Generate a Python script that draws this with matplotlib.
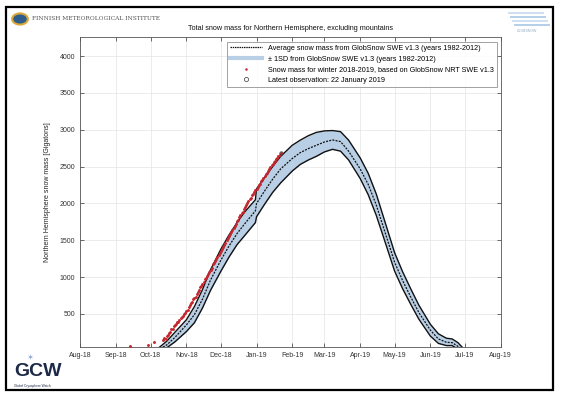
import matplotlib.pyplot as plt
import matplotlib.dates as mdates
import matplotlib.patches as mpatches
from matplotlib.lines import Line2D
import pandas as pd

plt.rcParams['font.family'] = ['Liberation Sans', 'DejaVu Sans']

# climatology (GlobSnow SWE v1.3, 1982-2012)
clim_dates = ['2018-10-01', '2018-10-08', '2018-10-15', '2018-10-22', '2018-11-01',
              '2018-11-08', '2018-11-15', '2018-11-22', '2018-12-01', '2018-12-08',
              '2018-12-15', '2018-12-22', '2018-12-31', '2019-01-01', '2019-01-08',
              '2019-01-15', '2019-01-22', '2019-02-01', '2019-02-08', '2019-02-15',
              '2019-02-22', '2019-03-01', '2019-03-08', '2019-03-15', '2019-03-22',
              '2019-04-01', '2019-04-08', '2019-04-15', '2019-04-22', '2019-05-01',
              '2019-05-08', '2019-05-15', '2019-05-22', '2019-06-01', '2019-06-08',
              '2019-06-15', '2019-06-20', '2019-06-25', '2019-07-01']
clim_mean = [0, 15, 80, 180, 350, 490, 700, 960, 1230, 1420,
             1590, 1730, 1900, 2000, 2170, 2330, 2470, 2610, 2690, 2745,
             2790, 2835, 2862, 2840, 2710, 2470, 2260, 1980, 1640, 1200,
             950, 730, 520, 280, 160, 115, 110, 60, 0]
clim_upper = [0, 40, 130, 250, 420, 600, 830, 1100, 1380, 1570,
              1740, 1890, 2050, 2200, 2350, 2500, 2640, 2790, 2860, 2920,
              2965, 2985, 2990, 2975, 2860, 2620, 2410, 2130, 1780, 1330,
              1070, 840, 620, 360, 230, 170, 160, 110, 10]
clim_lower = [0, 0, 40, 120, 260, 380, 580, 820, 1080, 1270,
              1440, 1570, 1740, 1820, 1990, 2150, 2280, 2440, 2530, 2590,
              2640, 2700, 2735, 2710, 2590, 2340, 2120, 1840, 1510, 1080,
              840, 630, 430, 200, 100, 70, 70, 20, 0]

# winter 2018-2019 (GlobSnow NRT SWE v1.3)
obs_early_dates = ['2018-09-13', '2018-09-29', '2018-10-04']
obs_early = [60, 80, 115]
obs_oct = [150, 175, 160, 200, 215, 240, 250, 300, 290, 330,
           345, 360, 390, 385, 420, 440, 455, 470, 500, 515]
obs_nov = [545, 560, 600, 615, 650, 660, 700, 720, 735, 770,
           800, 820, 860, 880, 905, 930, 975, 990, 1020, 1040,
           1070, 1100, 1130, 1175, 1190, 1215, 1240, 1270, 1300, 1330]
obs_dec = [1360, 1385, 1410, 1440, 1465, 1500, 1530, 1560, 1590, 1610,
           1640, 1670, 1700, 1720, 1760, 1780, 1810, 1840, 1865, 1890,
           1920, 1950, 1980, 2000, 2035, 2060, 2080, 2110, 2130, 2160, 2180]
obs_jan = [2200, 2230, 2250, 2270, 2300, 2320, 2350, 2370, 2400, 2420,
           2440, 2470, 2490, 2520, 2540, 2560, 2580, 2600, 2620, 2640,
           2660, 2680]

cd = pd.to_datetime(clim_dates)
obs_vals = obs_early + obs_oct + obs_nov + obs_dec + obs_jan
obs_dates = list(pd.to_datetime(obs_early_dates)) + \
    list(pd.date_range('2018-10-12', periods=len(obs_oct) + len(obs_nov) + len(obs_dec) + len(obs_jan)))

fig = plt.figure(figsize=(5.62, 3.98), dpi=100)
ax = fig.add_axes([0.1432, 0.1289, 0.7474, 0.7781])

ax.fill_between(cd, clim_lower, clim_upper, color='#b9cfe5', lw=0, zorder=2)
ax.plot(cd, clim_upper, color='#111111', lw=1.0, zorder=3)
ax.plot(cd, clim_lower, color='#111111', lw=1.0, zorder=3)
ax.plot(cd, clim_mean, color='#111111', lw=0.9, dashes=(1.6, 1.0), zorder=4)
ax.plot(obs_dates, obs_vals, 'o', color='#c3262d', ms=2.1, mew=0, zorder=5)
ax.plot(obs_dates[-1:], obs_vals[-1:], 'o', mfc='none', mec='#333333', ms=2.5, mew=0.5, zorder=6)

ax.set_xlim(pd.Timestamp('2018-08-01'), pd.Timestamp('2019-08-01'))
ax.set_ylim(55, 4260)
ax.set_yticks([500, 1000, 1500, 2000, 2500, 3000, 3500, 4000])
ax.xaxis.set_major_locator(mdates.MonthLocator())
ax.xaxis.set_major_formatter(mdates.DateFormatter('%b-%y'))
ax.tick_params(direction='in', top=True, right=True, length=3, width=0.5,
               labelsize=5, colors='#333333', pad=4)
ax.grid(True, color='#e4e4e4', lw=0.5)
ax.set_axisbelow(True)
for s in ax.spines.values():
    s.set_color('#555555')
    s.set_linewidth(0.6)

ax.set_ylabel('Northern Hemisphere snow mass [Gigatons]', fontsize=5, color='#222222', labelpad=6)
ax.set_title('Total snow mass for Northern Hemisphere, excluding mountains', fontsize=5.2,
             color='#111111', pad=5)

handles = [
    Line2D([], [], color='#111111', lw=0.9, dashes=(1.2, 0.6)),
    Line2D([], [], color='#b9cfe5', lw=3),
    Line2D([], [], ls='none', marker='o', color='#c3262d', ms=1.8, mew=0),
    Line2D([], [], ls='none', marker='o', mfc='none', mec='#333333', ms=3, mew=0.5),
]
labels = [
    'Average snow mass from GlobSnow SWE v1.3 (years 1982-2012)',
    '\u00b1 1SD from GlobSnow SWE v1.3 (years 1982-2012)',
    'Snow mass for winter 2018-2019, based on GlobSnow NRT SWE v1.3',
    'Latest observation: 22 January 2019',
]
leg = ax.legend(handles, labels, loc='upper right', bbox_to_anchor=(0.992, 0.985),
                borderaxespad=0, fontsize=5.2, frameon=True, fancybox=False,
                handlelength=4.5, handletextpad=0.8, labelspacing=0.5, borderpad=0.45)
leg.get_frame().set_edgecolor('#777777')
leg.get_frame().set_linewidth(0.6)

# institute header and logos
fig.add_artist(mpatches.Circle((20 / 562, 1 - 19 / 398), 0.014, transform=fig.transFigure,
                               facecolor='#2f5d8a', edgecolor='#d8a93a', lw=1.5))
fig.text(32 / 562, 1 - 19 / 398, 'FINNISH METEOROLOGICAL INSTITUTE', fontsize=4.2,
         color='#555555', va='center', family='DejaVu Serif')
for i, c in enumerate(['#cfe0f0', '#b7d0ea', '#cfe0f0', '#b7d0ea']):
    fig.add_artist(mpatches.Rectangle(((508 + i * 2) / 562, 1 - (14 + i * 4) / 398), 36 / 562, 2.5 / 398,
                                      transform=fig.transFigure, color=c, lw=0))
fig.text(527 / 562, 1 - 32 / 398, 'GLOBSNOW', fontsize=2.5, color='#8fa9c4', ha='center')
fig.text(14 / 562, 1 - 372 / 398, 'GCW', fontsize=14, fontweight='bold', color='#1c2a48',
         va='center')
fig.text(14 / 562, 1 - 386 / 398, 'Global Cryosphere Watch', fontsize=2.3, color='#1c2a48',
         va='center')
fig.text(26 / 562, 1 - 358 / 398, '\u2736', fontsize=6, color='#8aa6d8', va='center',
         family='DejaVu Sans')

fig.add_artist(mpatches.Rectangle((6 / 562, 1 - 390 / 398), 547 / 562, 383 / 398,
                                  transform=fig.transFigure, fill=False, ec='black', lw=1.6))

fig.savefig('out.png', dpi=100)
